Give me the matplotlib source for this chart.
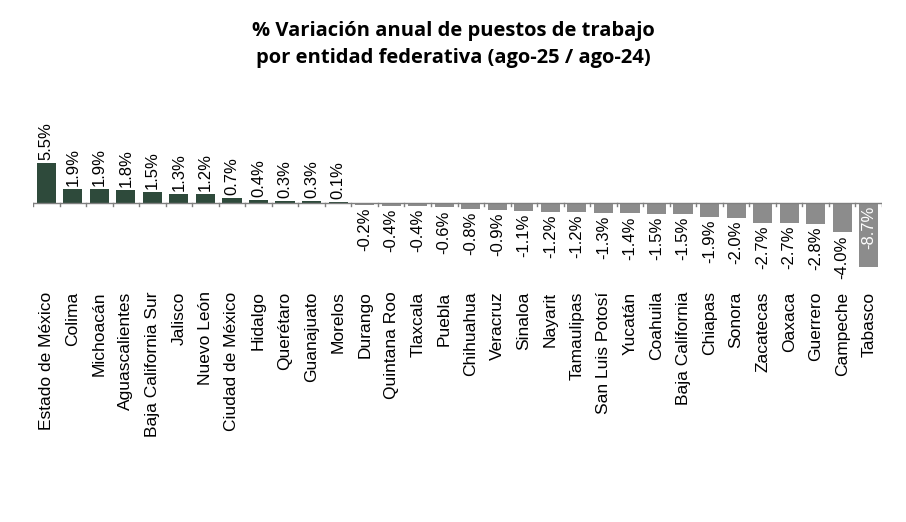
import matplotlib
matplotlib.use("Agg")
import matplotlib.pyplot as plt
import numpy as np

states = ["Estado de México","Colima","Michoacán","Aguascalientes","Baja California Sur","Jalisco",
          "Nuevo León","Ciudad de México","Hidalgo","Querétaro","Guanajuato","Morelos","Durango",
          "Quintana Roo","Tlaxcala","Puebla","Chihuahua","Veracruz","Sinaloa","Nayarit","Tamaulipas",
          "San Luis Potosí","Yucatán","Coahuila","Baja California","Chiapas","Sonora","Zacatecas",
          "Oaxaca","Guerrero","Campeche","Tabasco"]
values = [5.5,1.9,1.9,1.8,1.5,1.3,1.2,0.7,0.4,0.3,0.3,0.1,-0.2,-0.4,-0.4,-0.6,-0.8,-0.9,-1.1,-1.2,-1.2,
          -1.3,-1.4,-1.5,-1.5,-1.9,-2.0,-2.7,-2.7,-2.8,-4.0,-8.7]

plt.rcParams['font.family'] = ['Liberation Sans', 'DejaVu Sans']
fig = plt.figure(figsize=(9.06, 5.22), dpi=100)
W, H = 906, 522
ax = fig.add_axes([33/W, (522-290)/H, (882-33)/W, 190/H])
x = np.arange(len(states))
cols = ['#2e4a3b' if v >= 0 else '#8c8c8c' for v in values]
ax.bar(x, values, width=0.72, color=cols)
ax.set_xlim(-0.5, len(states)-0.5)
ax.set_ylim(-11.9, 14.1)
ax.axhline(0, color='#7f7f7f', lw=1)
for b in np.arange(-0.5, len(states), 1):
    ax.plot([b, b], [0, -0.35], color='#7f7f7f', lw=1)
for xi, v in zip(x, values):
    lab = f"{v:.1f}%"
    if xi == len(states)-1:
        ax.text(xi, -0.3, lab, rotation=90, ha='center', va='top', color='white', fontsize=12)
    elif v >= 0:
        ax.text(xi, v + 0.4, lab, rotation=90, ha='center', va='bottom', fontsize=12)
    else:
        ax.text(xi, v - 0.4, lab, rotation=90, ha='center', va='top', fontsize=12)
    ax.text(xi, -12.1, states[xi], rotation=90, ha='center', va='top', fontsize=12.5)
ax.axis('off')
fig.text(0.5, 0.96, "% Variación anual de puestos de trabajo\npor entidad federativa (ago-25 / ago-24)",
         ha='center', va='top', fontsize=14.5, fontweight='bold', family='Open Sans', linespacing=1.45)
fig.savefig("out.png", dpi=100)
